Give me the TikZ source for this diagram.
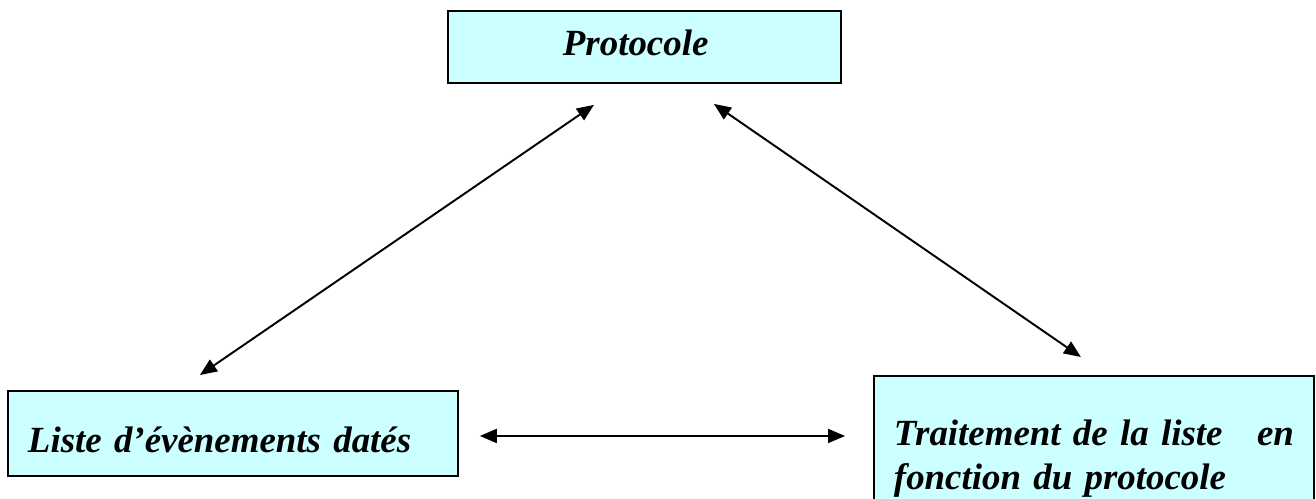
\documentclass[tikz,border=0pt]{standalone}
\usepackage{fontspec}
\setmainfont{Liberation Serif}
\usetikzlibrary{arrows.meta, positioning}
\definecolor{boxcyan}{RGB}{204,255,255}

\tikzset{
    box/.style={draw=black, line width=1.1pt, fill=boxcyan, inner sep=0pt,
        font=\fontsize{21}{25}\selectfont\bfseries\itshape},
    link/.style={{Triangle[length=0.34cm, width=0.28cm]}-{Triangle[length=0.34cm, width=0.28cm]}, line width=1.1pt}
}

\begin{document}
\begin{tikzpicture}[x=0.02cm, y=-0.02cm]
    \useasboundingbox (0,0) rectangle (1316,498);

    % Boxes
    \node[box, anchor=north west, minimum width=7.86cm, minimum height=1.44cm,
        text width=3.26cm, align=left, text height=0.5cm, text depth=0.14cm] (proto) at (447,10) {Protocole};
    \node[box, anchor=north west, minimum width=9cm, minimum height=1.7cm,
        text width=8.2cm, align=left, text height=0.78cm, text depth=0cm] (liste) at (7,390)
        {Liste d'évènements datés};
    \node[box, anchor=north west, minimum width=8.8cm, inner xsep=0.4cm, inner ysep=0.88cm,
        text width=8cm, align=left] (traitement) at (873,375)
        {Traitement de la liste\hfill en\\ fonction du protocole};

    % Free ends of the arrows
    \coordinate (pl) at ([xshift=-1.01cm, yshift=-0.42cm]proto.south);
    \coordinate (pr) at ([xshift=1.39cm, yshift=-0.4cm]proto.south);
    \coordinate (ll) at ([xshift=-0.66cm, yshift=0.3cm]liste.north);
    \coordinate (tr) at ([xshift=-0.26cm, yshift=0.36cm]traitement.north);
    \coordinate (lh) at ([xshift=0.42cm, yshift=-0.05cm]liste.east);
    \coordinate (th) at ([xshift=-0.56cm]traitement.west |- lh);

    % Arrows
    \draw[link] (pl) -- (ll);
    \draw[link] (pr) -- (tr);
    \draw[link] (lh) -- (th);
\end{tikzpicture}
\end{document}
